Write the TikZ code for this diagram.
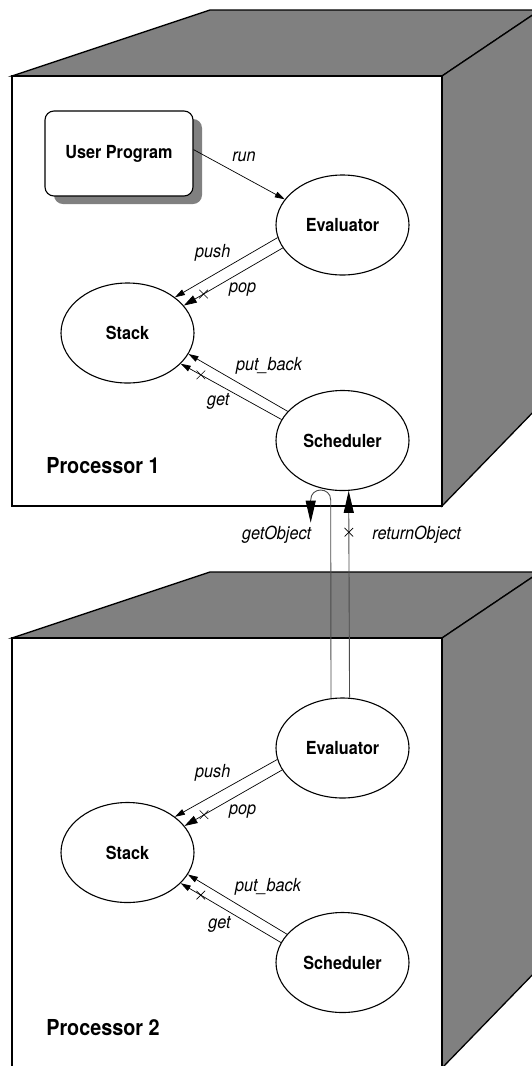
\documentclass[tikz,border=0pt]{standalone}
\usepackage{fontspec}
\newfontfamily\hv[FakeStretch=0.9]{TeX Gyre Heros}
\usetikzlibrary{arrows.meta,shapes.geometric,shapes.misc,shadows}
\definecolor{cubegray}{HTML}{808080}
\begin{document}
\begin{tikzpicture}[x=1pt,y=-1pt,
  face/.style={fill=cubegray,draw=black,line width=1.3pt,line join=miter},
  frontface/.style={fill=white,draw=black,line width=1.3pt},
  proc/.style={ellipse,draw,line width=1.1pt,minimum width=133pt,minimum height=100pt,inner sep=0pt,fill=white,font=\hv\bfseries\fontsize{18}{18}\selectfont},
  prog/.style={rectangle,rounded corners=9pt,draw,line width=1.1pt,minimum width=148pt,minimum height=85pt,fill=white,font=\hv\bfseries\fontsize{18}{18}\selectfont,general shadow={fill=cubegray,shadow xshift=9pt,shadow yshift=-8pt}},
  lbl/.style={font=\hv\itshape\fontsize{18}{18}\selectfont,inner sep=0pt},
  plabel/.style={font=\hv\bfseries\fontsize{22}{22}\selectfont,inner sep=0pt},
  msg/.style={line width=0.7pt,-{Triangle[length=10pt,width=6pt]}},
  msgbig/.style={line width=0.7pt,-{Triangle[length=13pt,width=8pt]}},
  xmark/.style={cross out,draw,minimum size=8pt,inner sep=0pt,line width=0.6pt},
  link/.style={line width=0.9pt,draw=black!70},
  bighead/.style={-{Triangle[length=22pt,width=10pt,color=black]}},
]
\useasboundingbox (0,0) rectangle (532,1066);
\clip (0,0) rectangle (532,1066);

% cube 1
\draw[face] (12,76) -- (210,10) -- (540,10) -- (442,76) -- cycle;
\draw[face] (442,76) -- (540,10) -- (540,405) -- (442,506) -- cycle;
\draw[frontface] (12,76) rectangle (442,506);
% cube 2
\begin{scope}[shift={(0,562)}]
\draw[face] (12,76) -- (210,10) -- (540,10) -- (442,76) -- cycle;
\draw[face] (442,76) -- (540,10) -- (540,405) -- (442,506) -- cycle;
\draw[frontface] (12,76) rectangle (442,506);
\end{scope}

% nodes of processor 1
\node[prog] (up) at (119,153.5) {User Program};
\node[proc] (ev1) at (342.5,225) {Evaluator};
\node[proc] (st1) at (127.5,333) {Stack};
\node[proc] (sc1) at (342.5,440.5) {Scheduler};
\node[plabel] (p1) at (103,466) {Processor 1};

% nodes of processor 2
\node[proc] (ev2) at (342.5,748) {Evaluator};
\node[proc] (st2) at (127.5,852.5) {Stack};
\node[proc] (sc2) at (342.5,962.5) {Scheduler};
\node[plabel] (p2) at (103,1028) {Processor 2};

% connectors processor 1
\draw[msg] (up.3) -- (ev1.156);
\node[lbl] (lrun) at (244,157) {run};
\draw[msg] (ev1.191) -- (st1.37);
\draw[msgbig] (ev1.201) -- node[xmark,pos=0.8] (x1) {} (st1.26);
\node[lbl] (lpush1) at (212.7,252.7) {push};
\node[lbl] (lpop1) at (242.7,290) {pop};
\draw[msg] (sc1.152) -- (st1.341);
\draw[msg] (sc1.161) -- node[xmark,pos=0.8] (x2) {} (st1.330);
\node[lbl] (lput1) at (269,365.7) {put\_back};
\node[lbl] (lget1) at (218.3,401.7) {get};

% connectors processor 2
\draw[msg] (ev2.190) -- (st2.37);
\draw[msgbig] (ev2.200) -- node[xmark,pos=0.8] (x3) {} (st2.25);
\node[lbl] (lpush2) at (212.7,772.7) {push};
\node[lbl] (lpop2) at (242.7,811.7) {pop};
\draw[msg] (sc2.153) -- (st2.340);
\draw[msg] (sc2.162) -- node[xmark,pos=0.8] (x4) {} (st2.330);
\node[lbl] (lput2) at (268,887.3) {put\_back};
\node[lbl] (lget2) at (219.5,924.7) {get};

% between processors
\coordinate (g1) at (330.7,500);
\coordinate (g2) at (310.7,500);
\coordinate (g3) at (310.7,522.7);
\draw[link] (ev2.103.5) -- (g1) .. controls +(0,-13.3) and +(0,-13.3) .. (g2);
\draw[link,bighead] (g2) -- (g3);
\draw[link,bighead] (ev2.82.56) -- node[xmark,pos=0.8,draw=black] (x5) {} (sc1.277.44);
\node[lbl] (lgo) at (276.7,535) {getObject};
\node[lbl] (lro) at (416.7,535) {returnObject};
\end{tikzpicture}
\end{document}
